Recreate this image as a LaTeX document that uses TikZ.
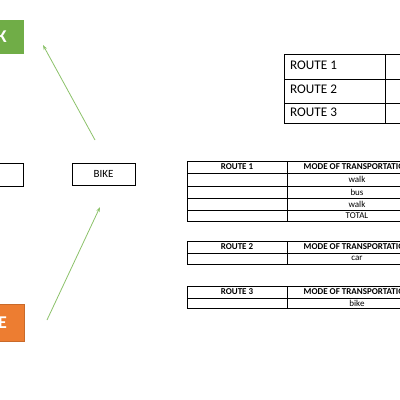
\documentclass[tikz,border=0pt]{standalone}
\usepackage{fontspec}
\setmainfont{Carlito}
\usetikzlibrary{arrows.meta}
\definecolor{offgreen}{HTML}{70AD47}
\definecolor{offorange}{HTML}{ED7D31}
\definecolor{arrgreen}{HTML}{8CC26A}
\tikzset{
  cell/.style={draw=black, line width=0.9pt},
  bigcell/.style={draw=black, line width=0.9pt},
  hdr/.style={font=\fontsize{9}{10}\selectfont\bfseries, inner sep=0pt},
  celltxt/.style={font=\fontsize{9}{10}\selectfont, inner sep=0pt},
  bigtxt/.style={font=\fontsize{13.2}{15}\selectfont, inner sep=0pt, anchor=west},
  conn/.style={draw=arrgreen, line width=0.8pt, -{Stealth[length=5pt,width=3.5pt]}},
}
\begin{document}
\begin{tikzpicture}[x=1pt,y=-1pt]
\useasboundingbox (0,0) rectangle (400,400);
\clip (0,0) rectangle (400,400);
\fill[white] (0,0) rectangle (400,400);

% coloured boxes (cut at left edge)
\node[fill=offgreen, minimum width=84pt, minimum height=34pt, inner sep=0pt, anchor=north east] (work) at (24,20) {};
\node[text=white, font=\fontsize{18}{20}\selectfont\bfseries, inner sep=0pt, anchor=east] (worktxt) at (7,37) {K};
\node[fill=offorange, draw=offorange!85!black, line width=0.5pt, minimum width=84pt, minimum height=37pt, inner sep=0pt, anchor=north east] (home) at (24,304) {};
\node[text=white, font=\fontsize{18}{20}\selectfont\bfseries, inner sep=0pt, anchor=east] (hometxt) at (7,322.5) {E};

% plain boxes
\node[cell, minimum width=84pt, minimum height=23pt, inner sep=0pt, anchor=north east] (leftbox) at (23.5,162.5) {};
\node[cell, minimum width=63pt, minimum height=22pt, inner sep=0pt, font=\fontsize{11}{12}\selectfont] (bike) at (103.5,174) {BIKE};

% connectors
\coordinate (a1s) at (95,140);
\coordinate (a1e) at (43,45);
\coordinate (a2s) at (47,320);
\coordinate (a2e) at (100,207);
\draw[conn] (a1s) -- (a1e);
\draw[conn] (a2s) -- (a2e);

% top-right table
\draw[bigcell] (284,54) rectangle (430,123);
\draw[bigcell] (284,79) -- (430,79);
\draw[bigcell] (284,103) -- (430,103);
\draw[bigcell] (385,54) -- (385,123);
\node[bigtxt] (tr1) at (290,65) {ROUTE 1};
\node[bigtxt] (tr2) at (290,89.5) {ROUTE 2};
\node[bigtxt] (tr3) at (290,112) {ROUTE 3};

% table route 1
\draw[cell] (187,161) rectangle (427,221);
\foreach \yy in {173,186,198,210} \draw[cell] (187,\yy) -- (427,\yy);
\draw[cell] (287,161) -- (287,221);
\node[hdr] (t1a) at (237,167) {ROUTE 1};
\node[hdr] (t1b) at (357,167) {MODE OF TRANSPORTATION};
\node[celltxt] (t1c) at (357,179.5) {walk};
\node[celltxt] (t1d) at (357,192) {bus};
\node[celltxt] (t1e) at (357,204) {walk};
\node[celltxt] (t1f) at (357,215.5) {TOTAL};

% table route 2
\draw[cell] (187,241) rectangle (427,264);
\draw[cell] (187,253) -- (427,253);
\draw[cell] (287,241) -- (287,264);
\node[hdr] (t2a) at (237,247) {ROUTE 2};
\node[hdr] (t2b) at (357,247) {MODE OF TRANSPORTATION};
\node[celltxt] (t2c) at (357,258.5) {car};

% table route 3
\draw[cell] (187,286) rectangle (427,308);
\draw[cell] (187,298) -- (427,298);
\draw[cell] (287,286) -- (287,308);
\node[hdr] (t3a) at (237,292) {ROUTE 3};
\node[hdr] (t3b) at (357,292) {MODE OF TRANSPORTATION};
\node[celltxt] (t3c) at (357,303) {bike};
\end{tikzpicture}
\end{document}
